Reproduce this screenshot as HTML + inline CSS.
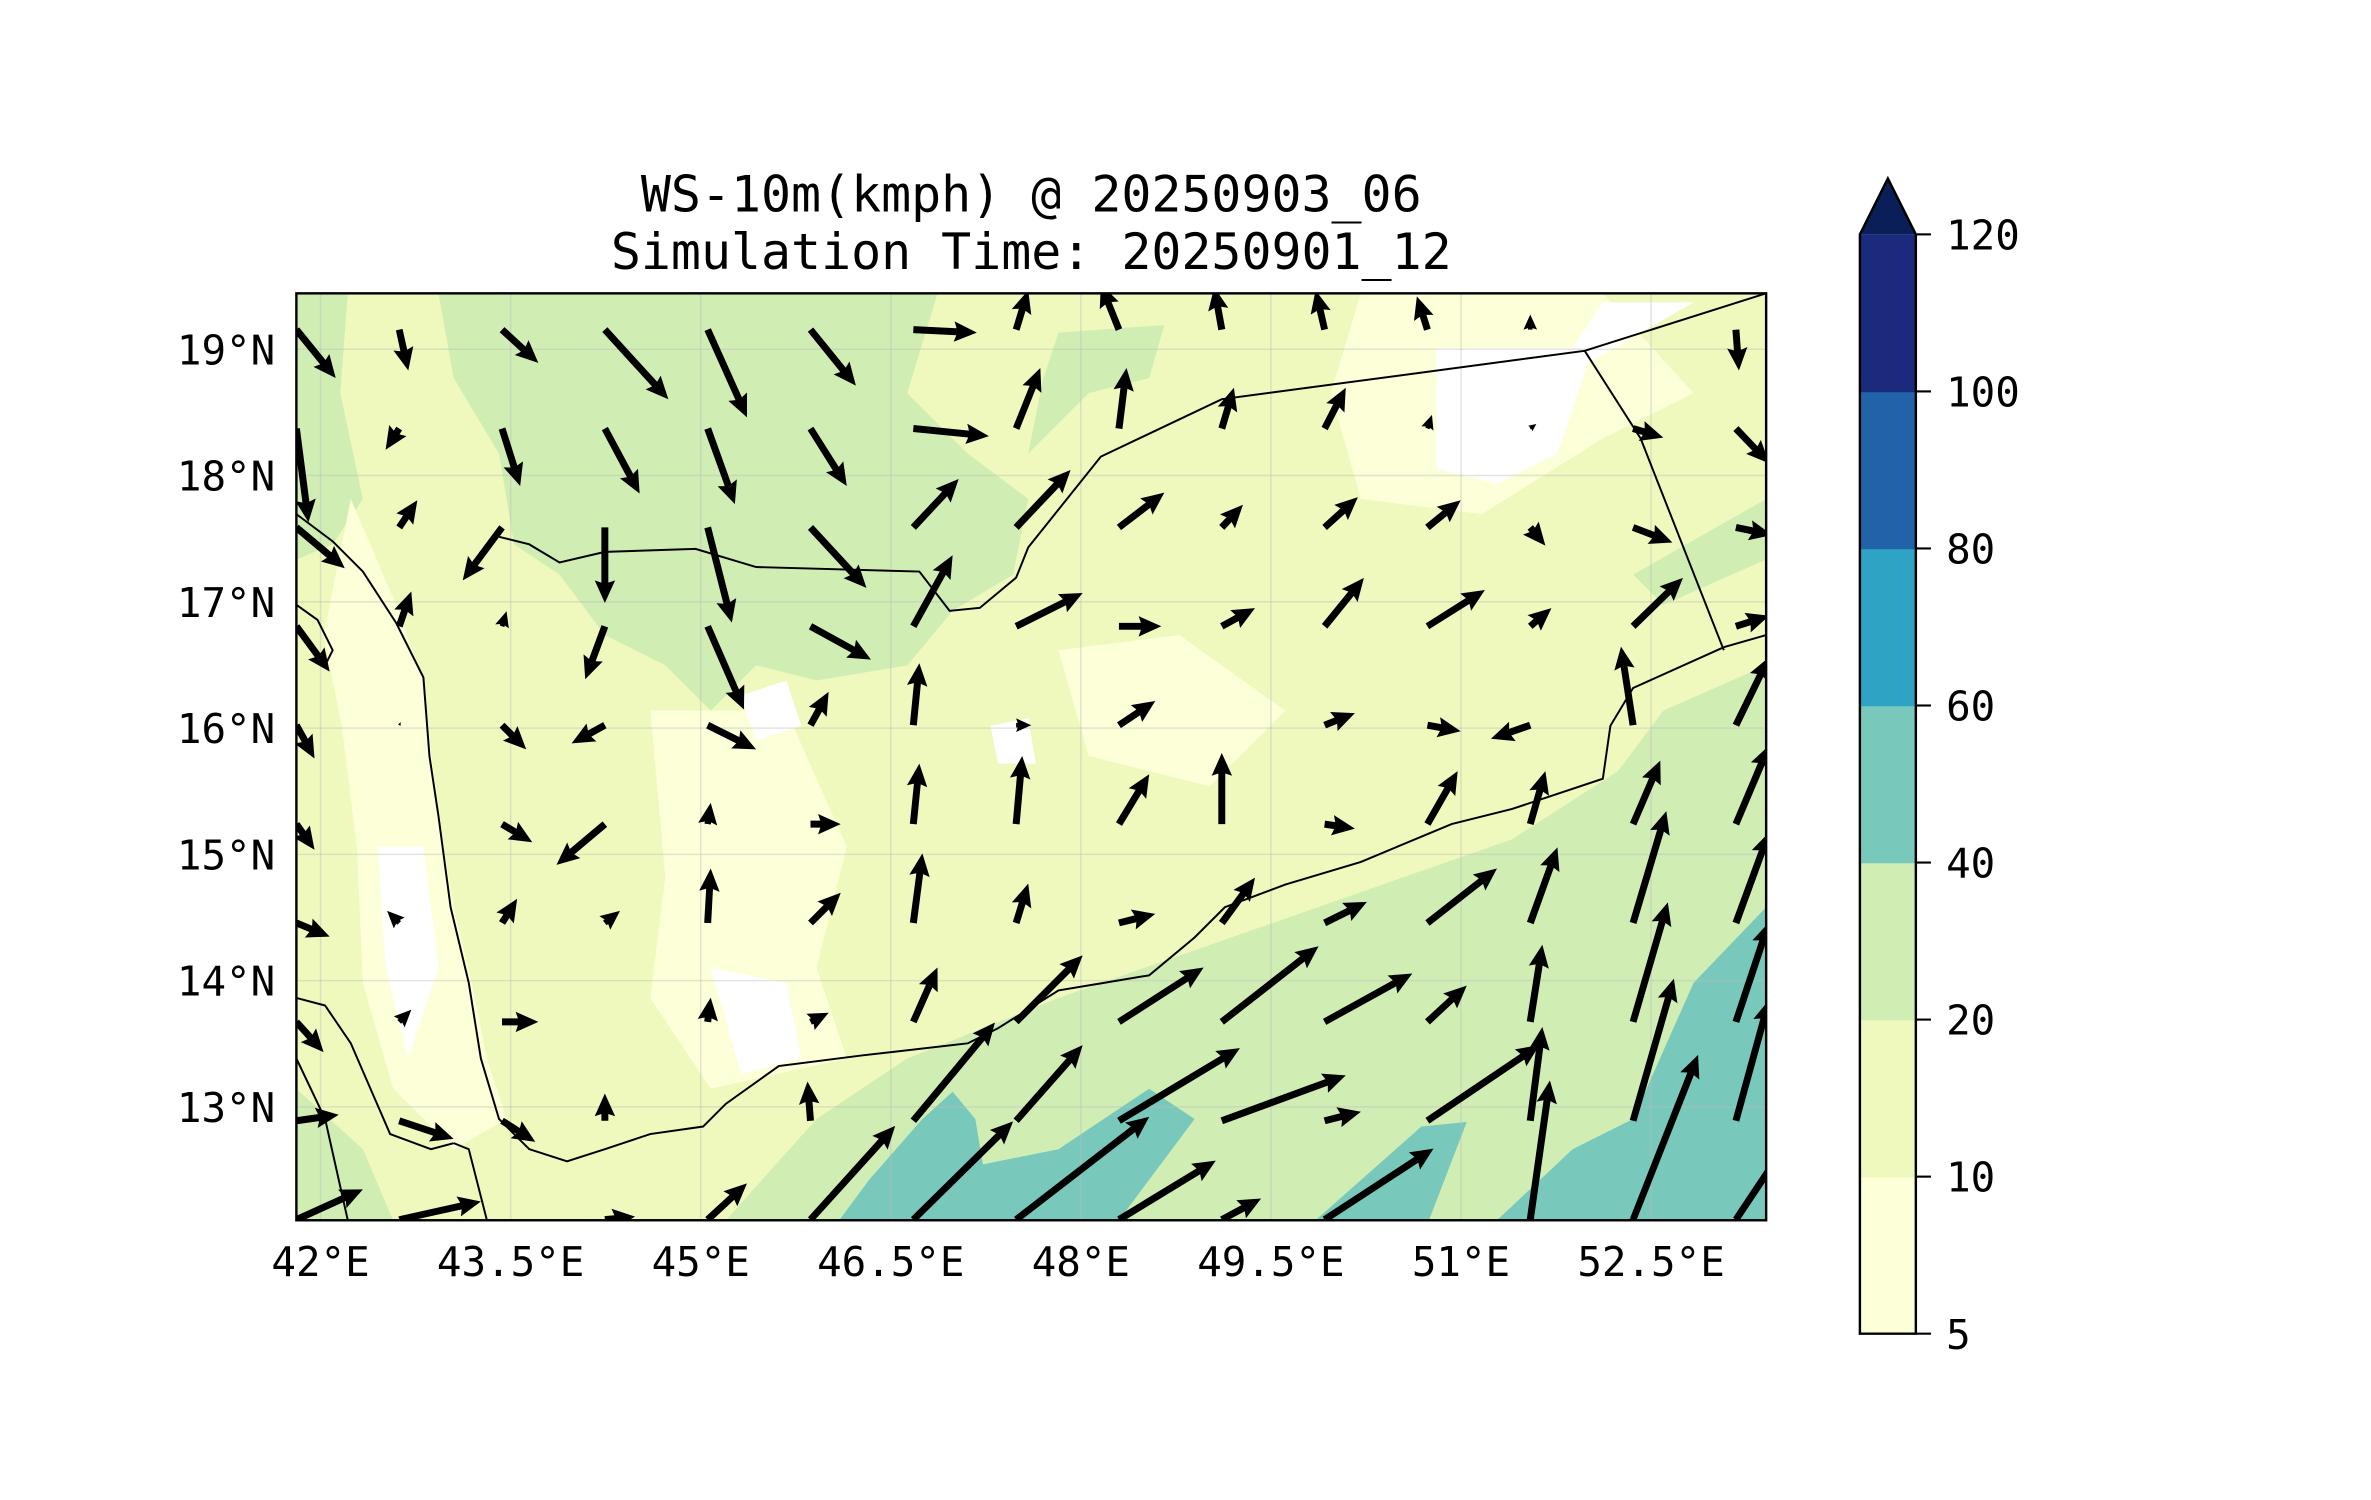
<!DOCTYPE html>
<html><head><meta charset="utf-8"><style>html,body{margin:0;padding:0;background:#fff}svg{display:block}text{font-family:"DejaVu Sans Mono","Liberation Mono",monospace;fill:#000}</style></head>
<body>
<svg id="chart" width="2371" height="1500" viewBox="0 0 1568 992" xmlns="http://www.w3.org/2000/svg">
<defs><clipPath id="mapclip"><rect x="196" y="194" width="972" height="613"/></clipPath></defs>
<text x="682" y="140" font-size="33" text-anchor="middle">WS-10m(kmph) @ 20250903_06</text>
<text x="682" y="178" font-size="33" text-anchor="middle">Simulation Time: 20250901_12</text>
<g clip-path="url(#mapclip)">
<rect x="196" y="194" width="972" height="613" fill="#eff9bd"/>
<g fill="#d0edb4">
<path d="M290,194 L620,194 L600,260 L640,300 L680,330 L670,380 L630,404 L600,440 L540,450 L500,440 L470,470 L440,440 L400,420 L370,380 L340,360 L330,300 L300,250 Z"/>
<path d="M196,194 L230,194 L225,260 L240,330 L220,360 L196,370 Z"/>
<path d="M480,807 L540,740 L600,700 L700,660 L800,625 L900,590 L1000,555 L1070,510 L1100,470 L1168,440 L1168,807 Z"/>
<path d="M680,300 L720,260 L760,250 L770,215 L700,220 L690,250 Z"/>
<path d="M196,720 L240,760 L260,807 L196,807 Z"/>
<path d="M1080,380 L1168,330 L1168,370 L1100,400 Z"/>
</g>
<g fill="#fcffd7">
<path d="M232,330 L262,400 L280,450 L290,540 L300,600 L312,650 L322,700 L335,740 L300,760 L260,720 L240,650 L236,560 L226,480 L214,420 Z"/>
<path d="M430,470 L520,470 L560,560 L540,640 L560,700 L470,720 L430,660 L440,580 Z"/>
<path d="M900,194 L1060,194 L1120,260 L1060,290 L980,340 L900,330 L880,260 Z"/>
<path d="M700,430 L780,420 L850,470 L800,520 L720,500 Z"/>
</g>
<g fill="#ffffff">
<path d="M950,230 L1040,230 L1060,200 L1120,200 L1050,240 L1030,300 L990,320 L950,310 Z"/>
<path d="M250,560 L280,560 L290,640 L270,700 L255,640 Z"/>
<path d="M470,640 L520,650 L530,700 L490,710 Z"/>
<path d="M490,460 L520,450 L530,480 L500,490 Z"/>
<path d="M655,480 L680,475 L685,505 L660,505 Z"/>
</g>
<g fill="#78c9bb">
<path d="M555,807 L575,780 L610,740 L630,722 L645,740 L650,770 L700,760 L760,720 L790,740 L740,807 Z"/>
<path d="M990,807 L1040,760 L1080,740 L1120,650 L1168,600 L1168,807 Z"/>
<path d="M870,807 L940,745 L970,742 L945,807 Z"/>
</g>
<g id="grid" stroke="#bbbbbb" stroke-opacity="0.4" stroke-width="1"></g>
<g fill="none" stroke="#000" stroke-width="1.3">
<path d="M330,355 L350,360 L370,372 L400,365 L460,363 L500,375 L608,378 L628,404 L648,402 L672,382 L680,362 L728,302 L808,264 L1048,232 L1168,194"/>
<path d="M1048,232 L1085,290 L1140,430"/>
<path d="M196,340 L220,358 L240,378 L262,412 L280,448 L284,500 L290,540 L298,600 L310,650 L318,700 L330,740 L350,760 L375,768 L400,760 L430,750 L465,745 L480,730 L515,705 L570,698 L640,690 L660,680 L700,655 L730,650 L760,645 L790,620 L810,600 L850,585 L900,570 L960,545 L1000,535 L1060,515 L1065,480 L1080,455 L1140,428 L1168,420"/>
<path d="M196,660 L215,665 L232,690 L245,720 L258,750 L285,760 L300,756 M196,700 L215,740 L230,807 M300,756 L310,760 L322,807"/>
<path d="M196,400 L210,410 L220,430 L215,440"/>
</g>
<g id="arrows" fill="#000"></g>
</g>
<rect x="196" y="194" width="972" height="613" fill="none" stroke="#000" stroke-width="1.6"/>
<g id="axes"></g>
<g id="cbar"></g>
</svg>
<script>
var lonTicks = [42, 43.5, 45, 46.5, 48, 49.5, 51, 52.5];
var latTicks = [19, 18, 17, 16, 15, 14, 13];
var cbLevels = [5, 10, 20, 40, 60, 80, 100, 120];
var cbColors = ["#fcffd7", "#eff9bd", "#d0edb4", "#78c9bb", "#2fa3c3", "#2262a8", "#1b2a7c"];
var cbExtendColor = "#0a1f58";
// wind components (u east, v north), rows north->south, cols west->east
var windU = [
[26,6,24,42,26,30,42,8,-12,-5,-6,-7,0,0,2],
[8,-9,12,23,18,24,50,16,5,8,14,3,4,20,22],
[32,12,-26,0,16,37,30,36,30,14,22,22,10,26,24],
[22,8,3,-13,24,40,26,44,28,22,26,38,14,33,22],
[12,1,16,-22,32,12,4,10,24,0,20,22,-26,-8,22],
[12,0,20,-32,2,20,4,4,20,0,20,20,10,18,22],
[22,-8,10,10,2,20,6,8,24,22,28,46,18,22,22],
[18,8,24,0,2,12,16,44,56,64,58,26,8,23,22],
[28,36,22,0,0,-2,54,44,80,82,24,74,8,27,22],
[44,54,0,20,26,56,66,88,64,26,72,0,13,43,40]];
var windV = [
[-32,-27,-22,-46,-58,-37,-2,26,30,28,26,22,10,0,-27],
[-62,-14,-38,-43,-50,-38,-5,40,40,27,27,9,3,-6,-23],
[-27,18,-35,-50,-63,-40,32,38,23,15,20,18,-12,-10,-5],
[-30,23,10,-35,-55,-22,47,22,0,12,32,24,12,32,7],
[-22,2,-16,-12,-16,22,41,0,16,0,8,-4,-9,52,45],
[-17,0,-12,-27,14,0,40,45,33,47,-3,35,35,42,52],
[-9,8,16,8,36,20,46,26,6,30,14,36,50,74,60],
[-20,8,0,0,16,6,36,44,36,50,32,24,51,79,66],
[4,-12,-14,18,0,26,65,50,48,30,6,50,62,94,80],
[20,12,0,2,24,62,65,68,39,14,47,0,92,109,60]];

var NS = "http://www.w3.org/2000/svg";
var X0 = 196, X1 = 1168, Y0 = 194, Y1 = 807;
function xOfLon(lon) { return 212 + (lon - 42) * 83.8; }
function yOfLat(lat) { return 231 + (19 - lat) * 83.5; }
function mk(tag, attrs, parent) { var e = document.createElementNS(NS, tag); for (var k in attrs) e.setAttribute(k, attrs[k]); parent.appendChild(e); return e; }

var grid = document.getElementById('grid');
lonTicks.forEach(function (lon) {
  var x = xOfLon(lon);
  var l = mk('line', {x1: x, x2: x, y1: Y0, y2: Y1}, grid);
  
  
});
latTicks.forEach(function (lat) {
  var y = yOfLat(lat);
  var l = mk('line', {x1: X0, x2: X1, y1: y, y2: y}, grid);
  
  
});

var axes = document.getElementById('axes');
lonTicks.forEach(function (lon) {
  var t = mk('text', {x: xOfLon(lon), y: 844, 'font-size': 27, 'text-anchor': 'middle'}, axes);
  
  
  t.textContent = lon + '°E';
});
latTicks.forEach(function (lat) {
  var t = mk('text', {x: 182, y: yOfLat(lat) + 10, 'font-size': 27, 'text-anchor': 'end'}, axes);
  
  
  t.textContent = lat + '°N';
});

var arrows = document.getElementById('arrows');
var gx0 = 196, gdx = 68, gy0 = 218, gdy = 65.4;
function arrowPts(x, y, u, v) {
  var dx = u, dy = -v, L = Math.sqrt(dx * dx + dy * dy);
  if (L < 0.5) return null;
  var w = 4.6, hl = 15, hal = 13.5, hw = 13.5, s = 1;
  if (L < hl) { s = L / hl; }
  w *= s; hl *= s; hal *= s; hw *= s;
  var ux = dx / L, uy = dy / L, px = -uy, py = ux;
  var pts = [[0, w / 2], [L - hal, w / 2], [L - hl, hw / 2], [L, 0], [L - hl, -hw / 2], [L - hal, -w / 2], [0, -w / 2]];
  return pts.map(function (p) { return (x + ux * p[0] + px * p[1]).toFixed(1) + ',' + (y + uy * p[0] + py * p[1]).toFixed(1); }).join(' ');
}
for (var j = 0; j < windU.length; j++) {
  for (var i = 0; i < windU[j].length; i++) {
    var pts = arrowPts(gx0 + i * gdx, gy0 + j * gdy, windU[j][i], windV[j][i]);
    if (!pts) continue;
    var a = mk('polygon', {points: pts}, arrows);
    
    
  }
}

var cb = document.getElementById('cbar');
var cx0 = 1230, cx1 = 1267, cyTop = 155, cyBot = 882;
var n = cbLevels.length - 1;
function yOfLevelIdx(k) { return cyBot - (cyBot - cyTop) * k / n; }
for (var k = 0; k < n; k++) {
  var r = mk('rect', {x: cx0, y: yOfLevelIdx(k + 1), width: cx1 - cx0, height: yOfLevelIdx(k) - yOfLevelIdx(k + 1) + 0.5, fill: cbColors[k]}, cb);
  
  
}
var tri = mk('polygon', {points: cx0 + ',' + cyTop + ' ' + ((cx0 + cx1) / 2) + ',118 ' + cx1 + ',' + cyTop, fill: cbExtendColor}, cb);


var outline = mk('path', {d: 'M' + cx0 + ',' + cyBot + ' L' + cx0 + ',' + cyTop + ' L' + ((cx0 + cx1) / 2) + ',118 L' + cx1 + ',' + cyTop + ' L' + cx1 + ',' + cyBot + ' Z', fill: 'none', stroke: '#000', 'stroke-width': 1.6}, cb);


cbLevels.forEach(function (lv, k) {
  var y = yOfLevelIdx(k);
  var tk = mk('line', {x1: cx1, x2: cx1 + 10, y1: y, y2: y, stroke: '#000', 'stroke-width': 1.4}, cb);
  
  
  var t = mk('text', {x: 1287, y: y + 10, 'font-size': 27}, cb);
  
  
  t.textContent = lv;
});
</script>
</body></html>
